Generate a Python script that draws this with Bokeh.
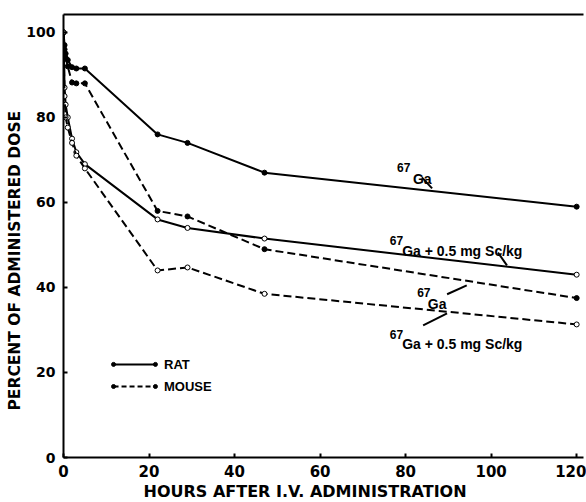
from bokeh.plotting import figure
from bokeh.models import ColumnDataSource, FixedTicker, LinearAxis, Range1d, Title
from bokeh.core.properties import value
from bokeh.embed import file_html
from bokeh.resources import INLINE

# ---- data (hours after i.v. administration, percent of administered dose)
hours = [0, 0.25, 0.5, 1, 2, 3, 5, 22, 29, 47, 120]
rat_ga = [100, 97, 95, 93.5, 91.8, 91.5, 91.5, 76, 74, 67, 59]
mouse_ga = [100, 96, 94, 92, 88.2, 88, 88, 58, 56.7, 49, 37.5]
rat_ga_sc = [100, 87, 83, 80, 75, 71.8, 69, 56, 54, 51.5, 43]
mouse_ga_sc = [100, 85, 80, 77.6, 74, 71, 68, 44, 44.7, 38.5, 31.3]

x_ticks = [0, 20, 40, 60, 80, 100, 120]
y_ticks = [0, 20, 40, 60, 80, 100]

# annotation texts and anchor positions (data units)
sup_text = ["67", "67", "67", "67"]
sup_x = [78.0, 76.3, 82.7, 76.3]
sup_y = [68.3, 51.1, 38.8, 29.0]
main_text = ["Ga", "Ga + 0.5 mg  Sc/kg", "Ga", "Ga + 0.5 mg  Sc/kg"]
main_x = [81.7, 79.2, 85.2, 79.2]
main_y = [65.6, 48.6, 36.2, 26.8]
lead_x0 = [83.8, 101.6, 89.7, 84.1]
lead_y0 = [65.9, 48.2, 38.4, 31.1]
lead_x1 = [86.2, 103.7, 94.3, 89.7]
lead_y1 = [63.3, 45.2, 40.5, 33.9]

legend_names = ["RAT", "MOUSE"]
legend_dash = ["solid", "5 3"]
legend_x0, legend_x1, legend_tx = 11.7, 21.5, 23.5
legend_y = [21.9, 16.7]

p = figure(width=586, height=502, output_backend="svg", toolbar_location=None,
           x_range=Range1d(0, 121.6), y_range=Range1d(0, 104.2),
           min_border_left=63, min_border_right=3, min_border_top=14,
           min_border_bottom=45)
p.outline_line_color = None
p.xgrid.visible = False
p.ygrid.visible = False
p.background_fill_color = "white"
p.border_fill_color = "white"

tick_font = "DejaVu Sans"
lab_font = "Liberation Sans"

for ax in (p.xaxis[0], p.yaxis[0]):
    ax.axis_line_width = 2
    ax.axis_line_color = "black"
    ax.major_tick_line_width = 2
    ax.minor_tick_line_color = None
    ax.major_label_text_font = tick_font
    ax.major_label_text_font_style = "bold"
    ax.major_label_text_color = "black"

p.xaxis.major_label_text_font_size = "15px"
p.yaxis.major_label_text_font_size = "14px"
p.xaxis.ticker = FixedTicker(ticks=x_ticks)
p.yaxis.ticker = FixedTicker(ticks=y_ticks)
p.xaxis.major_tick_in = 4
p.xaxis.major_tick_out = 0
p.xaxis.major_label_standoff = 7
p.yaxis.major_tick_in = 4
p.yaxis.major_tick_out = 0
p.yaxis.major_label_standoff = 8

top = LinearAxis(ticker=FixedTicker(ticks=[60]), major_label_overrides={60: ""},
                 major_label_text_font_size="1px",
                 major_tick_in=0, major_tick_out=0, minor_tick_in=0, minor_tick_out=0,
                 axis_line_width=2, axis_line_color="black", bounds=(0, 121.6),
                 major_label_standoff=0)
p.add_layout(top, "above")

xlab = Title(text="HOURS AFTER I.V. ADMINISTRATION", align="left", offset=80, standoff=0,
             text_font=tick_font, text_font_style="bold", text_font_size="16px",
             text_color="black")
p.add_layout(xlab, "below")
ylab = Title(text="PERCENT OF ADMINISTERED DOSE", align="left", offset=47, standoff=0,
             text_font=tick_font, text_font_style="bold", text_font_size="15.5px",
             text_color="black")
p.add_layout(ylab, "left")

series = [
    (rat_ga, "solid", "black"),
    (mouse_ga, "8 4", "black"),
    (rat_ga_sc, "solid", "white"),
    (mouse_ga_sc, "8 4", "white"),
]
for ys, dash, fill in series:
    src = ColumnDataSource(dict(x=hours, y=ys))
    p.line("x", "y", source=src, line_width=2, line_color="black", line_dash=dash)
    p.scatter("x", "y", source=src, size=5, marker="circle", line_color="black",
              line_width=1, fill_color=fill)

# annotations
ann = ColumnDataSource(dict(sx=sup_x, sy=sup_y, st=sup_text, mx=main_x, my=main_y,
                            mt=main_text, x0=lead_x0, y0=lead_y0, x1=lead_x1, y1=lead_y1))
p.segment("x0", "y0", "x1", "y1", source=ann, line_width=2, line_color="black")
p.text("sx", "sy", text="st", source=ann, text_font=value(lab_font), text_font_style="bold",
       text_font_size="12px", text_baseline="alphabetic", text_align="left", text_color="black")
p.text("mx", "my", text="mt", source=ann, text_font=value(lab_font), text_font_style="bold",
       text_font_size="14px", text_baseline="alphabetic", text_align="left", text_color="black")

# legend
for name, dash, ly in zip(legend_names, legend_dash, legend_y):
    p.line([legend_x0, legend_x1], [ly, ly], line_width=2, line_color="black", line_dash=dash)
    p.scatter([legend_x0, legend_x1], [ly, ly], size=4, color="black")
    p.text([legend_tx], [ly], text=[name], text_font=value(lab_font), text_font_style="bold",
           text_font_size="13px", text_baseline="middle", text_align="left", text_color="black")

open("out.html", "w").write(file_html(p, INLINE))
